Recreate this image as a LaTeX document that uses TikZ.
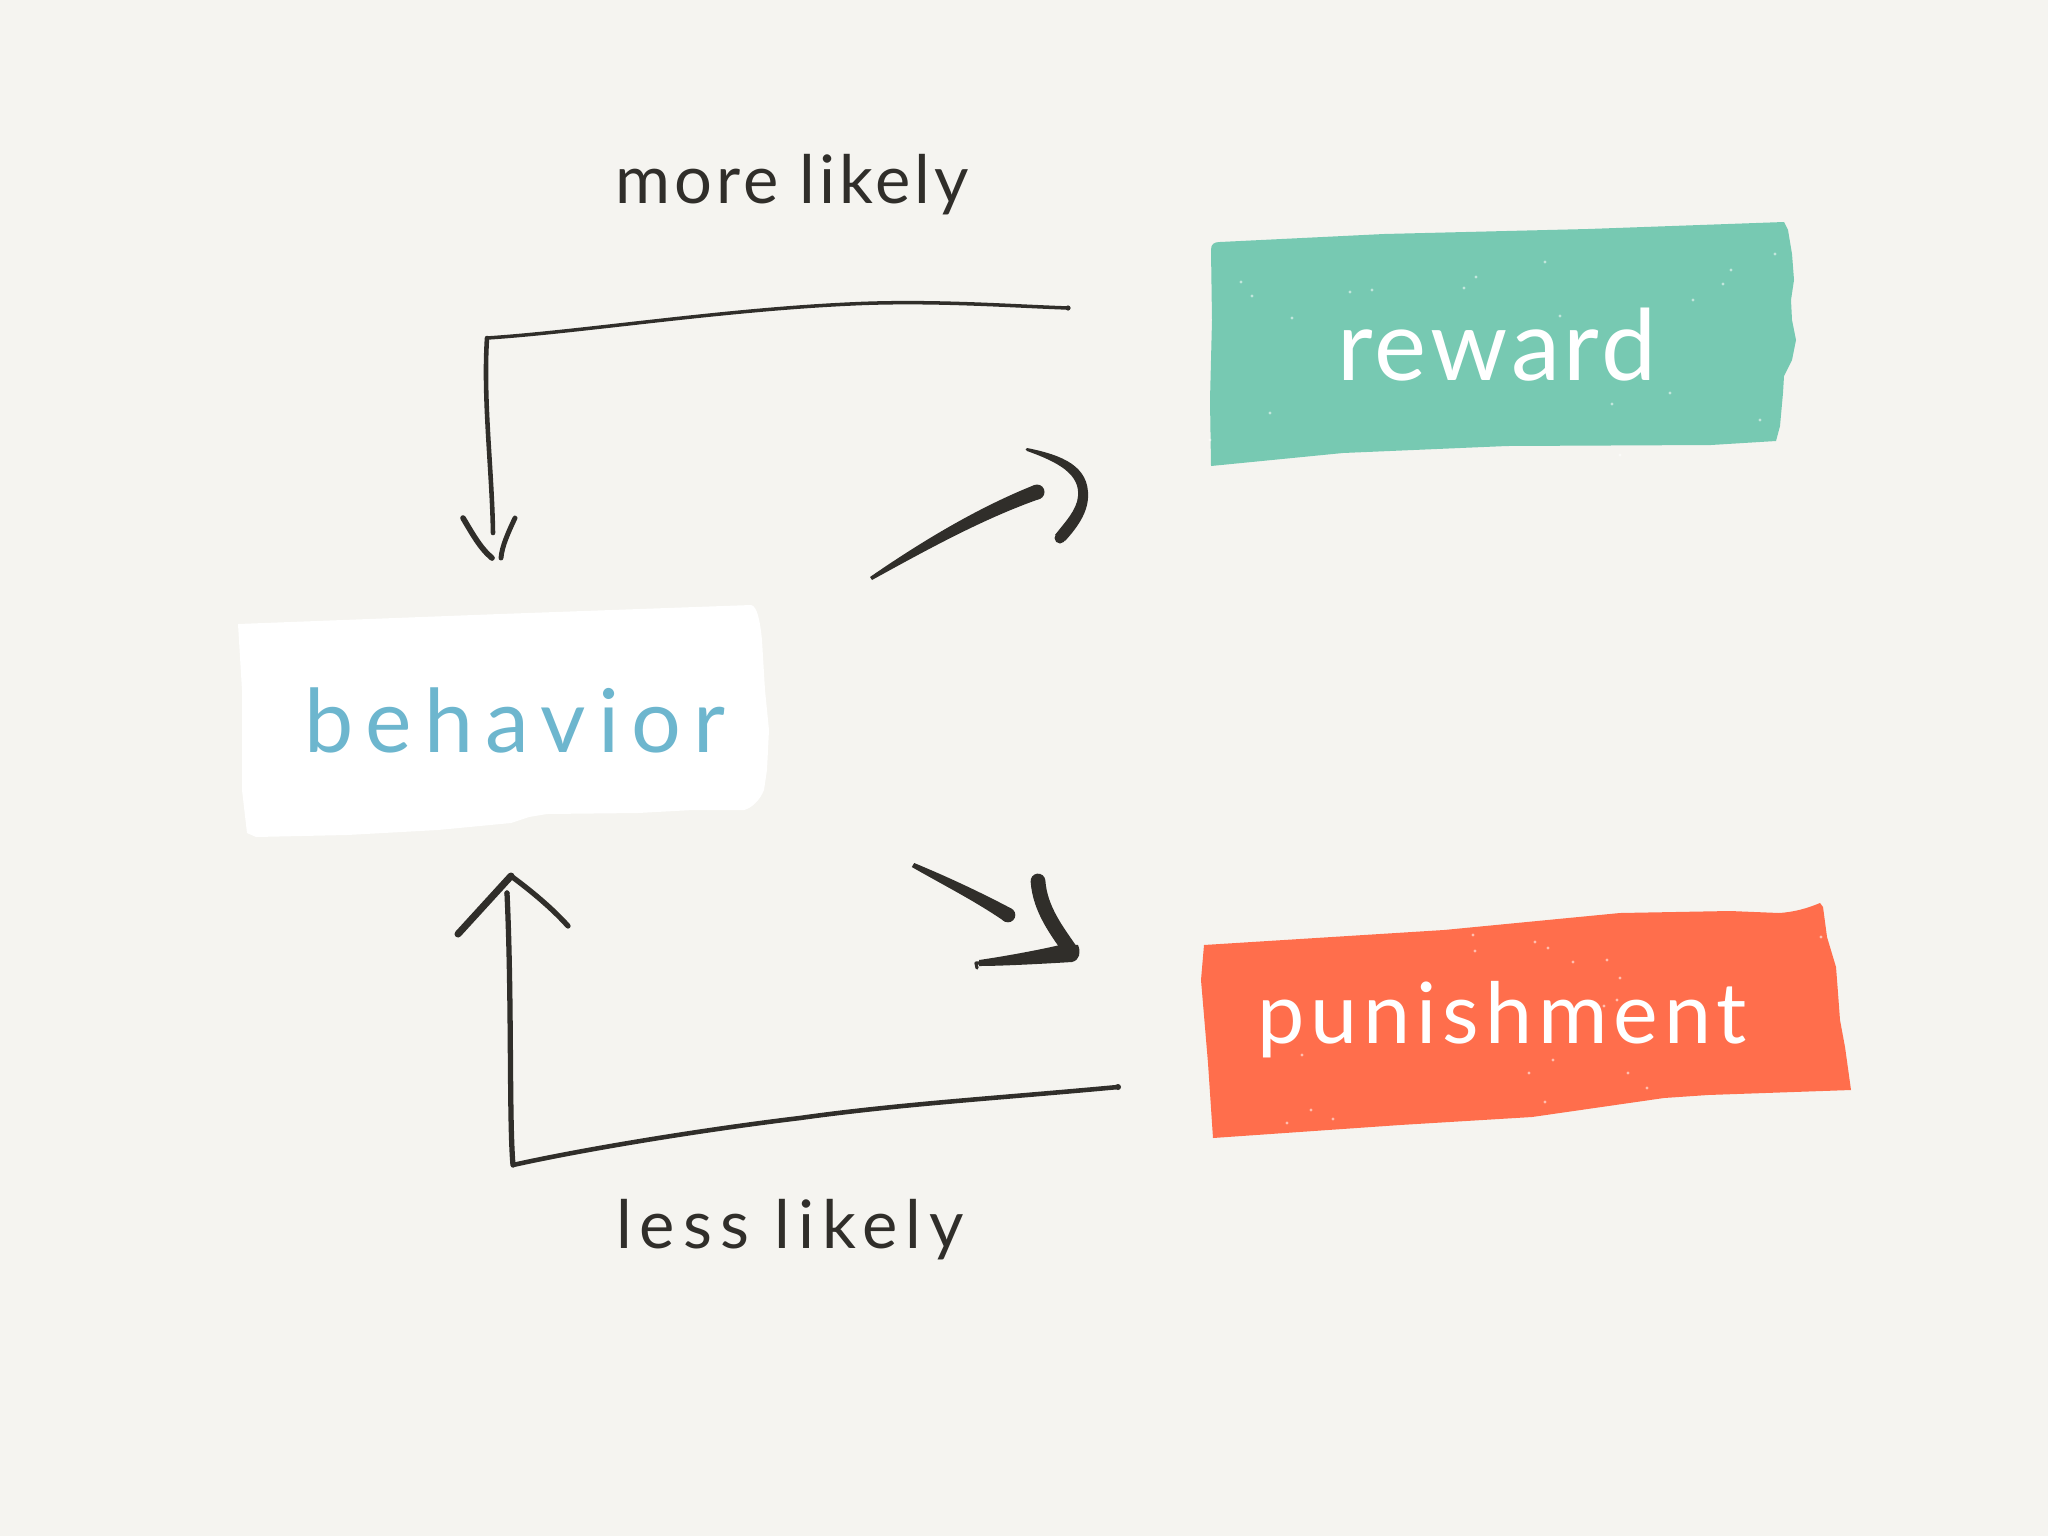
\documentclass[tikz,border=0pt]{standalone}
\usepackage{fontspec}
\setmainfont{Lato}
\definecolor{bg}{HTML}{F5F4F0}
\definecolor{ink}{HTML}{302E2A}
\definecolor{tealbox}{HTML}{77C9B2}
\definecolor{coralbox}{HTML}{FF6E4C}
\definecolor{blueink}{HTML}{6DB6CE}
\begin{document}
\begin{tikzpicture}[x=0.01cm,y=-0.01cm,
  conn/.style={draw=ink,line width=1pt,line cap=round,line join=round},
  pen/.style={draw=ink,line cap=round,line join=round},
  speck/.style={fill=white,opacity=0.55},
  boxlabel/.style={anchor=base,inner sep=0pt,text=white},
  sidelabel/.style={anchor=base,inner sep=0pt,text=ink}]
\useasboundingbox (0,0) rectangle (2048,1536);
\fill[bg] (0,0) rectangle (2048,1536);

% ---- behavior box (white torn paper)
\fill[white] (238,624) -- (500,614) -- (751,605) .. controls (757,606) and (760,620) .. (762,640)
  -- (765,690) -- (769,730) -- (767,770) -- (764,790) .. controls (760,800) and (752,808) .. (744,810)
  -- (693,810) -- (638,813) -- (547,814) -- (529,817) -- (511,823) -- (438,830) -- (347,835)
  -- (256,837) -- (247,833) -- (242,790) -- (242,690) -- cycle;
\node[anchor=base,inner sep=0pt,text=blueink,
  font={\fontsize{25}{27}\selectfont\addfontfeature{LetterSpace=14}}] (behavior) at (515,752) {behavior};

% ---- reward box (teal)
\fill[tealbox] (1211,250) .. controls (1211,244) and (1214,242) .. (1220,242) -- (1384,234) -- (1588,229)
  -- (1784,222) -- (1788,230) -- (1792,254) -- (1794,280) -- (1791,300) -- (1792,320) -- (1796,340)
  -- (1792,360) -- (1784,376) -- (1783,393) -- (1780,426) -- (1776,441) -- (1711,445) -- (1507,446)
  -- (1343,453) -- (1211,466) -- (1210,400) -- (1212,320) -- cycle;
\foreach \p in {(1241,282),(1252,296),(1292,318),(1350,292),(1372,290),(1464,288),(1476,277),
  (1545,262),(1560,316),(1642,336),(1693,300),(1723,284),(1731,270),(1775,254),(1270,413),(1620,455),
  (1670,393),(1612,404),(1210,440),(1760,420)}
  \fill[speck] \p circle (1.6);
\node[boxlabel,font={\fontsize{28}{30}\selectfont\addfontfeature{LetterSpace=4}}] (reward) at (1497,380) {reward};

% ---- punishment box (coral)
\fill[coralbox] (1204,945) -- (1444,930) -- (1620,913) -- (1730,911) -- (1779,913)
  .. controls (1795,912) and (1808,908) .. (1820,903) -- (1823,907) -- (1827,937) -- (1836,967)
  -- (1838,993) -- (1840,1020) -- (1845,1047) -- (1851,1090) -- (1708,1095) -- (1664,1098)
  -- (1532,1117) -- (1400,1125) -- (1213,1138) -- (1208,1063) -- (1201,980) -- cycle;
\foreach \p in {(1473,935),(1475,951),(1535,942),(1548,948),(1573,962),(1607,960),(1620,978),
  (1604,1006),(1617,1000),(1302,1055),(1311,1110),(1287,1123),(1333,1119),(1553,1060),(1529,1073),
  (1628,1073),(1647,1088),(1545,1102),(1821,937)}
  \fill[speck] \p circle (1.6);
\node[boxlabel,font={\fontsize{24}{26}\selectfont\addfontfeature{LetterSpace=7}}] (punishment) at (1502,1043) {punishment};

% ---- side labels
\node[sidelabel,font={\fontsize{19}{21}\selectfont\addfontfeature{LetterSpace=6}}] (morelikely) at (792,203) {more likely};
\node[sidelabel,font={\fontsize{19}{21}\selectfont\addfontfeature{LetterSpace=12}}] (lesslikely) at (790,1248) {less likely};

% ---- named ends of the connectors
\coordinate (topstart) at (1068,308);
\coordinate (topcorner) at (487,338);
\coordinate (topend) at (493,533);
\coordinate (toptip) at (492,558);
\coordinate (botstart) at (1118,1087);
\coordinate (botcorner) at (513,1165);
\coordinate (botend) at (507,893);
\coordinate (botapex) at (511,876);
\coordinate (rwstart) at (873,580);
\coordinate (rwend) at (1037,492);
\coordinate (pnstart) at (913,865);
\coordinate (pnend) at (1008,915);

% ---- top connector: reward -> behavior (more likely)
\draw[conn] (topstart) .. controls (1010,306) and (930,300) .. (850,304)
  .. controls (720,310) and (580,332) .. (topcorner);
\draw[conn,line width=1.3pt] (topcorner) .. controls (483,400) and (492,470) .. (topend);
\fill[ink] (topstart) circle (2.6);
\draw[pen,line width=1.6pt] (463,518) .. controls (472,533) and (480,548) .. (toptip);
\draw[pen,line width=1.4pt] (515,518) .. controls (508,533) and (502,546) .. (501,558);

% ---- bottom connector: punishment -> behavior (less likely)
\draw[conn,line width=1.3pt] (botstart) .. controls (1000,1098) and (900,1104) .. (800,1118)
  .. controls (700,1130) and (580,1150) .. (botcorner);
\draw[conn,line width=1.5pt] (botcorner) .. controls (509,1120) and (512,1000) .. (botend);
\fill[ink] (botstart) circle (3);
\fill[ink] (botend) circle (2.6);
\draw[pen,line width=2pt] (458,934) -- (botapex);
\draw[pen,line width=1.5pt] (botapex) .. controls (530,890) and (552,908) .. (568,926);

% ---- behavior -> reward arrow
\fill[ink] (872,580) .. controls (930,548) and (985,518) .. (1040.5,498.6)
  -- (1033.5,485.4) .. controls (982,506) and (928,537) .. (870,577) -- cycle;
\fill[ink] (rwend) circle (7.5);
\fill[ink] (1027,448) .. controls (1062,455) and (1090,466) .. (1088,498)
  .. controls (1087,515) and (1075,530) .. (1065,541)
  -- (1055,535) .. controls (1065,522) and (1077,510) .. (1078,496)
  .. controls (1080,474) and (1058,462) .. (1027,451) -- cycle;
\fill[ink] (1060,538) circle (5.5);
\fill[ink] (1027,449.5) circle (1.5);

% ---- behavior -> punishment arrow
\fill[ink] (911.8,867) .. controls (945,886) and (975,901) .. (1004.7,921.5)
  -- (1011.3,908.5) .. controls (980,892) and (948,877) .. (914.2,863) -- cycle;
\fill[ink] (pnend) circle (7.3);
\draw[pen,line width=4.2pt] (1038,881) .. controls (1040,910) and (1058,932) .. (1070,950);
\fill[ink] (1078,945) .. controls (1081,952) and (1080,960) .. (1072,962)
  .. controls (1040,964) and (1000,966) .. (979,966)
  -- (979,960) .. controls (1000,957) and (1040,950) .. (1064,944) -- cycle;
\draw[pen,line width=0.9pt] (980,963) -- (976,963) -- (977,968);
\end{tikzpicture}
\end{document}
